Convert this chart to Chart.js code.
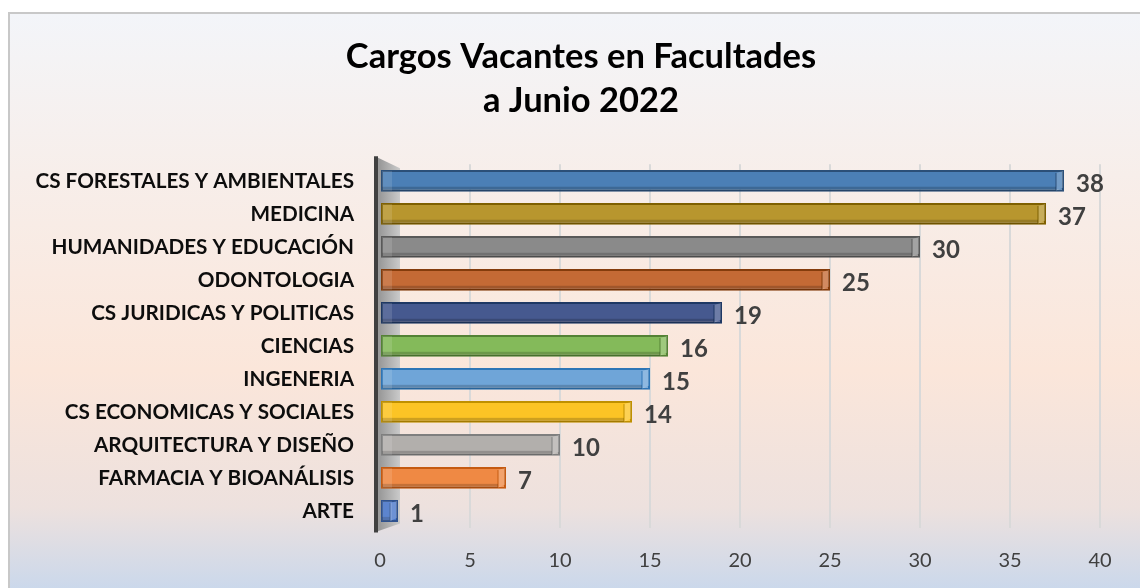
<!DOCTYPE html>
<html lang="es">
<head>
    <meta charset="UTF-8">
    <title>Cargos Vacantes en Facultades</title>
    <script src="https://cdn.jsdelivr.net/npm/chart.js"></script>
    <style>
        html, body { margin: 0; padding: 0; background: #fff; overflow: hidden; }
        #box {
            position: absolute; left: 8px; top: 12px;
            width: 1132px; height: 576px;
            border-left: 2px solid #c8c8c8; border-top: 2px solid #c8c8c8;
            box-sizing: border-box;
            background: linear-gradient(to bottom, #f3f5f9 0%, #f7eeea 28%, #fbe6da 62%, #ede1de 86%, #cbd8eb 100%);
        }
        canvas { display: block; }
    </style>
</head>
<body>
<div id="box"><canvas id="cargosChart" width="1130" height="574"></canvas></div>
<script>
    const facultades = ['CS FORESTALES Y AMBIENTALES', 'MEDICINA', 'HUMANIDADES Y EDUCACIÓN', 'ODONTOLOGIA',
        'CS JURIDICAS Y POLITICAS', 'CIENCIAS', 'INGENERIA', 'CS ECONOMICAS Y SOCIALES',
        'ARQUITECTURA Y DISEÑO', 'FARMACIA Y BIOANÁLISIS', 'ARTE'];
    const vacantes = [38, 37, 30, 25, 19, 16, 15, 14, 10, 7, 1];
    const rellenos = ['#4b7fb6', '#b8962e', '#8a8a8a', '#c46a35', '#46598f', '#84ba5a',
        '#6fa5d8', '#fcc425', '#b2afac', '#ef8944', '#4674c8'];
    const bordes = ['#2b4f78', '#7f6000', '#595959', '#843c0c', '#1f3864', '#548235',
        '#2e75b6', '#bf9000', '#7f7f7f', '#c55a11', '#2f528f'];

    // pared gris del eje y (imitando el 3D de Excel)
    const pared = {
        id: 'pared',
        beforeDatasetsDraw(chart) {
            const { ctx, chartArea: a } = chart;
            ctx.save();
            const g = ctx.createLinearGradient(a.left, 0, a.left + 24, 0);
            g.addColorStop(0, '#9a9a9a');
            g.addColorStop(1, '#d4d4d4');
            ctx.fillStyle = g;
            ctx.beginPath();
            ctx.moveTo(a.left - 3, a.top - 7);
            ctx.lineTo(a.left + 20, a.top + 4);
            ctx.lineTo(a.left + 20, a.bottom - 4);
            ctx.lineTo(a.left - 3, a.bottom + 4);
            ctx.closePath();
            ctx.fill();
            ctx.strokeStyle = '#404040';
            ctx.lineWidth = 4;
            ctx.beginPath();
            ctx.moveTo(a.left - 4, a.top - 8);
            ctx.lineTo(a.left - 4, a.bottom + 5);
            ctx.stroke();
            ctx.restore();
        }
    };

    // biseles de las barras y etiquetas de valor
    const etiquetas = {
        id: 'etiquetas',
        afterDatasetsDraw(chart) {
            const { ctx } = chart;
            const meta = chart.getDatasetMeta(0);
            ctx.save();
            meta.data.forEach((bar, i) => {
                const top = bar.y - bar.height / 2;
                const bot = bar.y + bar.height / 2;
                const d = Math.min(8, (bar.x - bar.base) / 2);
                // cara lateral derecha
                ctx.fillStyle = 'rgba(255,255,255,0.22)';
                ctx.beginPath();
                ctx.moveTo(bar.x - d, top + 3);
                ctx.lineTo(bar.x - 1, top + 1);
                ctx.lineTo(bar.x - 1, bot - 4);
                ctx.lineTo(bar.x - d, bot - 1);
                ctx.closePath();
                ctx.fill();
                ctx.strokeStyle = bordes[i];
                ctx.lineWidth = 1;
                ctx.beginPath();
                ctx.moveTo(bar.x - d, top + 3);
                ctx.lineTo(bar.x - d, bot - 1);
                ctx.stroke();
                // sombra inferior
                ctx.fillStyle = 'rgba(0,0,0,0.18)';
                ctx.fillRect(bar.base + 1, bot - 5, bar.x - bar.base - d - 1, 4);
                // brillo izquierdo
                ctx.fillStyle = 'rgba(255,255,255,0.12)';
                ctx.fillRect(bar.base + 1, top + 1, Math.min(10, bar.x - bar.base - 2), bot - top - 2);
                // valor
                ctx.fillStyle = '#404040';
                ctx.font = 'bold 24px Lato';
                ctx.textAlign = 'left';
                ctx.textBaseline = 'middle';
                ctx.fillText(vacantes[i], bar.x + 12, bar.y + 3);
            });
            ctx.restore();
        }
    };

    const ctx = document.getElementById('cargosChart').getContext('2d');
    const cargosChart = new Chart(ctx, {
        type: 'bar',
        data: {
            labels: facultades,
            datasets: [{
                data: vacantes,
                backgroundColor: rellenos,
                borderColor: bordes,
                borderWidth: 2,
                borderSkipped: false,
                barPercentage: 0.66,
                categoryPercentage: 1
            }]
        },
        options: {
            indexAxis: 'y',
            responsive: false,
            animation: false,
            layout: { padding: { top: 0, right: 0, bottom: 15, left: 12 } },
            plugins: {
                legend: { display: false },
                tooltip: { enabled: false },
                title: {
                    display: true,
                    text: ['Cargos Vacantes en Facultades', 'a Junio 2022'],
                    color: '#000',
                    font: { family: 'Lato', size: 34.5, weight: 'bold', lineHeight: 1.28 },
                    padding: { top: 21, bottom: 41 }
                }
            },
            scales: {
                x: {
                    min: 0,
                    max: 40,
                    afterFit: s => { s.paddingRight = 40; s.height = 45.5; },
                    ticks: {
                        stepSize: 5,
                        padding: 21,
                        color: '#404040',
                        font: { family: 'Lato', size: 20 }
                    },
                    grid: {
                        drawTicks: false,
                        color: c => c.tick && c.tick.value === 0 ? 'rgba(0,0,0,0)' : '#d9d9d9',
                        lineWidth: 2
                    },
                    border: { display: false }
                },
                y: {
                    afterFit: s => { s.width = 358; },
                    ticks: {
                        padding: 26,
                        color: '#0d0d0d',
                        font: { family: 'Lato', size: 20.7, weight: 'bold' }
                    },
                    grid: { display: false, drawTicks: false },
                    border: { display: false }
                }
            }
        },
        plugins: [pared, etiquetas]
    });
</script>
</body>
</html>
